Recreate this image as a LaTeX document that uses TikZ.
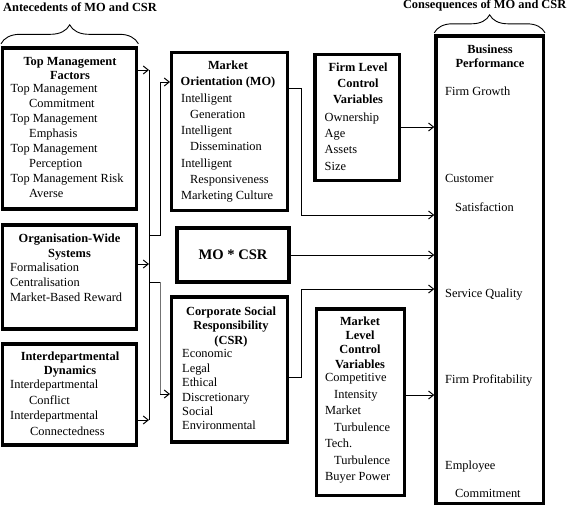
\documentclass[tikz,border=0pt]{standalone}
\usepackage{fontspec}
\setmainfont{Liberation Serif}
\usetikzlibrary{arrows.meta,decorations.pathreplacing}
\tikzset{
  box/.style={draw, line width=3.4pt, inner sep=0pt},
  txt/.style={inner sep=0pt, anchor=north west, align=left},
  hd/.style={inner sep=0pt, anchor=north, align=center},
  item/.style={inner sep=0pt, anchor=base west, font=\fontsize{12.4}{15}\selectfont},
  ttl/.style={inner sep=0pt, font=\bfseries\fontsize{12.4}{15}\selectfont},
  ln/.style={line width=1pt},
  arr/.style={line width=1pt, -{Straight Barb[length=5pt,width=8pt]}},
  brc/.style={line width=0.9pt, decorate},
}
\newcommand{\mkbox}[6][]{\node[box, minimum width={#5-#3}, minimum height={#6-#4}, #1] (#2) at ({(#3+#5)/2},{(#4+#6)/2}) {};}
\newcommand{\fs}[1]{\fontsize{12.4}{#1}\selectfont}
\newcommand{\fb}[1]{\bfseries\fontsize{12.4}{#1}\selectfont}
\begin{document}
\begin{tikzpicture}[x=1pt,y=-1pt]
\useasboundingbox (0,0) rectangle (567,506);
% boxes
\mkbox{tmf}{2.7}{48}{136.7}{209}
\mkbox{org}{2.7}{225}{136.7}{329}
\mkbox{idd}{2.7}{344}{136.7}{445}
\mkbox{mo}{171.7}{52.3}{287.3}{210.7}
\node[box, minimum width=112, minimum height=54, font=\bfseries\fontsize{14.6}{17}\selectfont] (mocsr) at (233,255) {MO * CSR};
\mkbox{csr}{171.7}{297}{287.3}{442}
\mkbox{fl}{315}{54.5}{399.5}{180.5}
\mkbox{ml}{316.5}{309}{404.5}{495.5}
\mkbox{bp}{436}{36}{543.3}{503.5}
% titles and braces
\node[ttl, anchor=base west] (ant) at (3,11.7) {Antecedents of MO and CSR};
\node[ttl, anchor=base east] (con) at (566.5,8.3) {Consequences of MO and CSR};
\draw[brc, decoration={brace, amplitude=19pt}] ([yshift=2.5pt]tmf.north west) -- ([yshift=2.5pt]tmf.north east);
\draw[brc, decoration={brace, amplitude=18pt}] ([yshift=1.5pt]bp.north west) -- ([yshift=1.5pt]bp.north east);
% TMF
\node[hd, font=\fb{13.6}] (tmfh) at (70,57.5) {Top Management\\Factors};
\node[txt, font=\fs{15}] (tmft) at (10.5,84.5) {Top Management\\\hspace*{18.5pt}Commitment\\Top Management\\\hspace*{18.5pt}Emphasis\\Top Management\\\hspace*{18.5pt}Perception\\Top Management Risk\\\hspace*{18.5pt}Averse};
% ORG
\node[hd, font=\fb{15}] (orgh) at (69.5,233.5) {Organisation-Wide\\Systems};
\node[txt, font=\fs{15}] (orgt) at (10,262.5) {Formalisation\\Centralisation\\Market-Based Reward};
% IDD
\node[hd, font=\fb{14}] (iddh) at (70,351.5) {Interdepartmental\\Dynamics};
\node[txt, font=\fs{15.7}] (iddt) at (10,379.5) {Interdepartmental\\\hspace*{19pt}Conflict\\Interdepartmental\\\hspace*{20pt}Connectedness};
% MO
\node[hd, font=\fb{16}] (moh) at (228,60.5) {Market\\Orientation (MO)};
\node[txt, font=\fs{16.2}] (mot) at (181,93.5) {Intelligent\\\hspace*{9pt}Generation\\Intelligent\\\hspace*{9pt}Dissemination\\Intelligent\\\hspace*{9pt}Responsiveness\\Marketing Culture};
% CSR
\node[hd, font=\fb{14.5}] (csrh) at (231,306.5) {Corporate Social\\Responsibility\\(CSR)};
\node[txt, font=\fs{14.4}] (csrt) at (182,349.5) {Economic\\Legal\\Ethical\\Discretionary\\Social\\Environmental};
% FL
\node[hd, font=\fb{16}] (flh) at (358,62.5) {Firm Level\\Control\\Variables};
\node[txt, font=\fs{16.3}] (flt) at (324.5,112.5) {Ownership\\Age\\Assets\\Size};
% ML
\node[hd, font=\fb{14.3}] (mlh) at (360,316.5) {Market\\Level\\Control\\Variables};
\node[txt, font=\fs{16.5}] (mlt) at (325,373.5) {Competitive\\\hspace*{9pt}Intensity\\Market\\\hspace*{9pt}Turbulence\\Tech.\\\hspace*{9pt}Turbulence\\Buyer Power};
% BP
\node[hd, font=\fb{14}] (bph) at (490,44.5) {Business\\Performance};
\node[item] (bp1) at (445,95.1) {Firm Growth};
\node[item] (bp2) at (445,182.1) {Customer};
\node[item] (bp3) at (455,211.1) {Satisfaction};
\node[item] (bp4) at (445,297.1) {Service Quality};
\node[item] (bp5) at (445,383.1) {Firm Profitability};
\node[item] (bp6) at (445,469.1) {Employee};
\node[item] (bp7) at (455,497.1) {Commitment};
% junction coordinates
\coordinate (j1) at (149,70);
\coordinate (j2) at (149,264);
\coordinate (j3) at (149,420);
\coordinate (b1) at (149,235);
\coordinate (b2) at (149,282);
\coordinate (k1) at (160,82);
\coordinate (k3) at (160,282);
\coordinate (k2) at (160,394);
\coordinate (m1) at (301,88);
\coordinate (m2) at (301,215);
\coordinate (c1) at (301,377);
\coordinate (c2) at (301,289);
\coordinate (f1) at (420,127);
\coordinate (l1) at (420,395);
% connectors
\draw[ln] (j1) -- (j3);
\draw[arr] (tmf.east |- j1) -- (j1);
\draw[arr] (org.east |- j2) -- (j2);
\draw[arr] (idd.east |- j3) -- (j3);
\draw[arr] (b1) -| (k1) -- (mo.west |- k1);
\draw[ln] (b2) -- (k3);
\draw[ln, black!55] (k3) -- (k2);
\draw[arr] (k2) -- (csr.west |- k2);
\draw[arr] (mo.east |- m1) -- (m1) -- (m2) -- (bp.west |- m2);
\draw[arr] (fl.east |- f1) -- (bp.west |- f1);
\draw[arr] (mocsr.east) -- (bp.west |- mocsr.east);
\draw[arr] (csr.east |- c1) -- (c1) -- (c2) -- (bp.west |- c2);
\draw[arr] (ml.east |- l1) -- (bp.west |- l1);
\end{tikzpicture}
\end{document}
